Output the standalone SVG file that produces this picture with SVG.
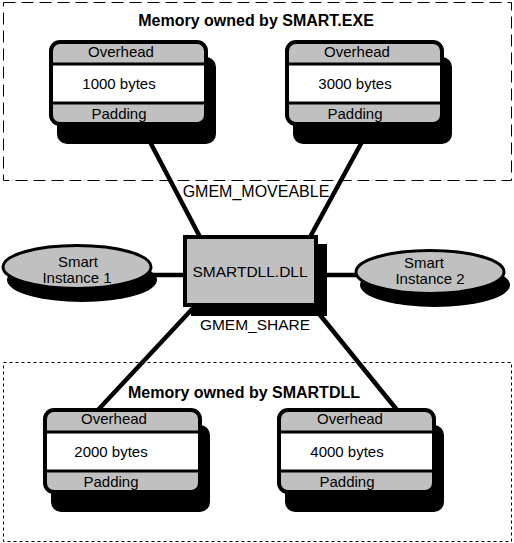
<svg xmlns="http://www.w3.org/2000/svg" width="514" height="543" viewBox="0 0 514 543">
<style>
text{font-family:"Liberation Sans",Arial,sans-serif;fill:#000}
.t{font-size:15px;text-anchor:middle}
.g{font-size:15.5px;text-anchor:middle}
.h{font-size:16px;font-weight:bold;text-anchor:middle}
.sh{fill:#000}
.fillg{fill:#c0c0c0}
.outline{fill:none;stroke:#000;stroke-width:4}
.body{fill:#c0c0c0;stroke:#000;stroke-width:4}
.band{fill:#fff}
.sep{stroke:#000;stroke-width:3}
.conn{stroke:#000;stroke-width:4.5;fill:none}
.frame{fill:none;stroke:#000;stroke-width:1}
</style>
<defs>
<g id="memblock">
<rect class="sh" x="8" y="17" width="159" height="87" rx="10"/>
<rect class="fillg" x="2" y="2" width="155" height="82" rx="9"/>
<rect class="band" x="2" y="24" width="155" height="39"/>
<line class="sep" x1="2" y1="24" x2="157" y2="24"/>
<line class="sep" x1="2" y1="63" x2="157" y2="63"/>
<rect class="outline" x="2" y="2" width="155" height="82" rx="9"/>
</g>
</defs>
<rect class="frame" x="3.5" y="2.5" width="508" height="178" stroke-dasharray="12,6"/>
<text class="h" x="256" y="26">Memory owned by SMART.EXE</text>
<rect class="frame" x="3.5" y="362.5" width="508" height="179" stroke-dasharray="3,3"/>
<text class="h" x="244" y="398">Memory owned by SMARTDLL</text>
<g id="connectors">
<line class="conn" x1="149" y1="140" x2="200" y2="237"/>
<line class="conn" x1="363" y1="140" x2="310" y2="237"/>
<line class="conn" x1="195" y1="306" x2="97" y2="411"/>
<line class="conn" x1="316" y1="310" x2="397" y2="410"/>
<line class="conn" x1="148" y1="275" x2="187" y2="275"/>
<line class="conn" x1="316" y1="275" x2="360" y2="275"/>
</g>
<text class="g" x="256" y="197" style="font-size:16px">GMEM_MOVEABLE</text>
<text class="g" x="255" y="330">GMEM_SHARE</text>
<g id="mem1000" transform="translate(49,40)">
<use href="#memblock"/>
<text class="t" x="72" y="17">Overhead</text>
<text class="t" x="70" y="49">1000 bytes</text>
<text class="t" x="70" y="79">Padding</text>
</g>
<g id="mem3000" transform="translate(285,40)">
<use href="#memblock"/>
<text class="t" x="72" y="17">Overhead</text>
<text class="t" x="70" y="49">3000 bytes</text>
<text class="t" x="70" y="79">Padding</text>
</g>
<g id="mem2000" transform="translate(43,408)">
<use href="#memblock"/>
<text class="t" x="71" y="16">Overhead</text>
<text class="t" x="68" y="49">2000 bytes</text>
<text class="t" x="68" y="79">Padding</text>
</g>
<g id="mem4000" transform="translate(277,408)">
<use href="#memblock"/>
<text class="t" x="73" y="16">Overhead</text>
<text class="t" x="70" y="49">4000 bytes</text>
<text class="t" x="70" y="79">Padding</text>
</g>
<g id="dll">
<rect class="sh" x="191" y="244" width="136" height="72"/>
<rect class="body" x="185" y="237" width="131" height="68"/>
<text class="g" x="250" y="277">SMARTDLL.DLL</text>
</g>
<g id="inst1">
<ellipse class="sh" cx="82" cy="280" rx="75" ry="22"/>
<ellipse cx="77" cy="267" rx="74" ry="21.5" fill="#c0c0c0" stroke="#000" stroke-width="3"/>
<text class="t" x="78" y="267">Smart</text>
<text class="t" x="77" y="283">Instance 1</text>
</g>
<g id="inst2">
<ellipse class="sh" cx="435" cy="285" rx="75" ry="22"/>
<ellipse cx="430" cy="272" rx="74" ry="21.5" fill="#c0c0c0" stroke="#000" stroke-width="3"/>
<text class="t" x="424" y="268">Smart</text>
<text class="t" x="430" y="284">Instance 2</text>
</g>
</svg>
